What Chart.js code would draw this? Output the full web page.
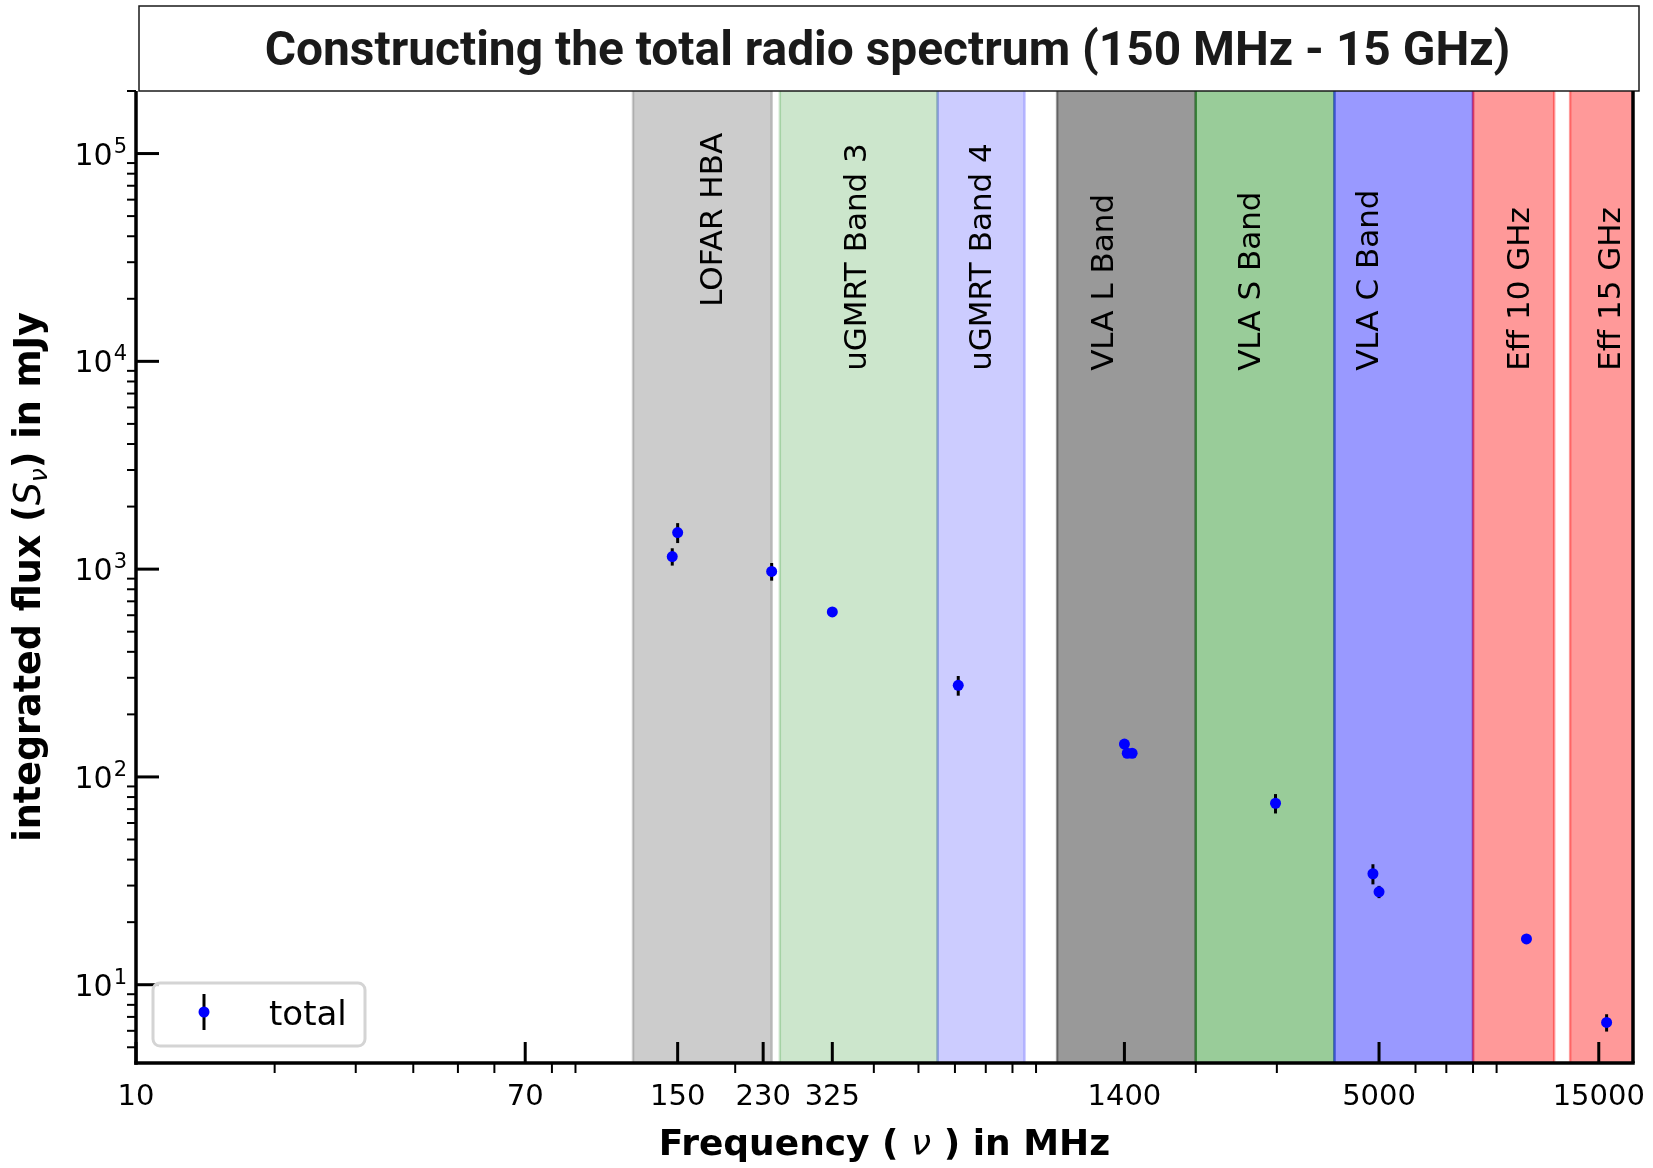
<!DOCTYPE html>
<html>
<head>
<meta charset="utf-8">
<title>Constructing the total radio spectrum</title>
<script src="https://cdn.jsdelivr.net/npm/chart.js@4.4.1/dist/chart.umd.min.js"></script>
<style>
  html, body { margin: 0; padding: 0; background: #fff; }
</style>
</head>
<body>
<canvas id="spectrum" width="1653" height="1168"></canvas>
<script>
// measured integrated flux, MHz / mJy
const freqMHz = [146, 150, 240, 325, 610, 1400, 1420, 1455, 2980, 4850, 5000, 10450, 15600];
const fluxMJy = [1150, 1500, 975, 622, 276, 144, 130, 130, 74.7, 34.2, 28, 16.6, 6.58];
const fluxErr = [110, 165, 95, 25, 30, 5, 5, 5, 8, 3.8, 1.9, 0.6, 0.63];

// observing bands
const bandNames = ['LOFAR HBA', 'uGMRT Band 3', 'uGMRT Band 4', 'VLA L Band', 'VLA S Band', 'VLA C Band', 'Eff 10 GHz', 'Eff 15 GHz'];
const bandLow = [120, 250, 550, 1000, 2000, 4000, 8000, 13000];
const bandHigh = [240, 550, 850, 2000, 4000, 8000, 12000, 18000];
const bandColors = [
  'rgba(128,128,128,0.4)',
  'rgba(0,128,0,0.2)',
  'rgba(0,0,255,0.2)',
  'rgba(0,0,0,0.4)',
  'rgba(0,128,0,0.4)',
  'rgba(0,0,255,0.4)',
  'rgba(255,0,0,0.4)',
  'rgba(255,0,0,0.4)'
];
const bandLabelFreq = [180, 370, 690, 1270, 2650, 4780, 10150, 16000];
const bandLabelFlux = [18300, 9000, 9000, 9000, 9000, 9000, 9000, 9000];

// ticks
const xTickValues = [10, 70, 150, 230, 325, 1400, 5000, 15000];
const xMinorValues = [20, 30, 40, 50, 60, 80, 90, 200, 400, 500, 600, 700, 800, 900, 2000, 3000, 6000, 7000, 8000, 9000];
const yTickValues = [10, 100, 1000, 10000, 100000];
const yMinorValues = [5, 6, 7, 8, 9, 20, 30, 40, 50, 60, 70, 80, 90, 200, 300, 400, 500, 600, 700, 800, 900,
  2000, 3000, 4000, 5000, 6000, 7000, 8000, 9000, 20000, 30000, 40000, 50000, 60000, 70000, 80000, 90000, 200000];

const titleText = 'Constructing the total radio spectrum (150 MHz - 15 GHz)';

Chart.defaults.font.family = '"DejaVu Sans"';
Chart.defaults.color = '#000';

function line(ctx, x0, y0, x1, y1) {
  ctx.beginPath();
  ctx.moveTo(x0, y0);
  ctx.lineTo(x1, y1);
  ctx.stroke();
}

// draws text made of several font runs, centred on (cx, cy)
function richText(ctx, parts, cx, cy, angle) {
  let total = 0;
  parts.forEach(p => { ctx.font = p.font; p.w = ctx.measureText(p.text).width; total += p.w; });
  ctx.save();
  ctx.translate(cx, cy);
  ctx.rotate(angle);
  ctx.textAlign = 'left';
  ctx.textBaseline = 'alphabetic';
  let pos = -total / 2;
  parts.forEach(p => {
    ctx.font = p.font;
    ctx.fillText(p.text, pos, p.dy || 0);
    pos += p.w;
  });
  ctx.restore();
}

const spectrumDecor = {
  id: 'spectrumDecor',
  beforeDatasetsDraw(chart) {
    const {ctx, chartArea: a, scales: {x, y}} = chart;
    ctx.save();
    ctx.beginPath();
    ctx.rect(a.left, a.top, a.right - a.left, a.bottom - a.top);
    ctx.clip();

    bandNames.forEach((name, i) => {
      const x0 = x.getPixelForValue(bandLow[i]);
      const x1 = x.getPixelForValue(bandHigh[i]);
      ctx.fillStyle = bandColors[i];
      ctx.fillRect(x0, a.top, x1 - x0, a.bottom - a.top);
      ctx.strokeStyle = bandColors[i];
      ctx.lineWidth = 2.5;
      ctx.strokeRect(x0, a.top - 10, x1 - x0, a.bottom - a.top + 20);
    });

    ctx.fillStyle = '#000';
    ctx.font = '31px "DejaVu Sans"';
    ctx.textAlign = 'left';
    ctx.textBaseline = 'middle';
    bandNames.forEach((name, i) => {
      ctx.save();
      ctx.translate(x.getPixelForValue(bandLabelFreq[i]), y.getPixelForValue(bandLabelFlux[i]));
      ctx.rotate(-Math.PI / 2);
      ctx.fillText(name, 0, 0);
      ctx.restore();
    });

    // error bars under the markers
    ctx.strokeStyle = '#000';
    ctx.lineWidth = 3;
    freqMHz.forEach((f, i) => {
      const px = x.getPixelForValue(f);
      line(ctx, px, y.getPixelForValue(fluxMJy[i] + fluxErr[i]), px, y.getPixelForValue(fluxMJy[i] - fluxErr[i]));
    });
    ctx.restore();
  },
  afterDraw(chart) {
    const {ctx, chartArea: a, scales: {x, y}} = chart;
    ctx.save();
    ctx.strokeStyle = '#000';
    ctx.lineCap = 'butt';

    // title box
    ctx.fillStyle = '#fff';
    ctx.fillRect(a.left + 3, 6, a.right - a.left + 3, a.top - 6);
    ctx.lineWidth = 1.5;
    ctx.strokeStyle = '#1a1a1a';
    ctx.strokeRect(a.left + 3, 6, a.right - a.left + 3, a.top - 6);

    // spines
    ctx.strokeStyle = '#000';
    ctx.lineWidth = 3.5;
    line(ctx, a.left, a.top, a.left, a.bottom + 1.75);
    line(ctx, a.left - 1.75, a.bottom, a.right + 1.75, a.bottom);
    line(ctx, a.right, a.top, a.right, a.bottom);

    // minor ticks point out, major ticks point in
    ctx.lineWidth = 2;
    xMinorValues.forEach(v => {
      const px = x.getPixelForValue(v);
      line(ctx, px, a.bottom, px, a.bottom + 10);
    });
    yMinorValues.forEach(v => {
      if (v < y.min || v > y.max * 1.001) return;
      const py = y.getPixelForValue(v);
      line(ctx, a.left - 9, py, a.left, py);
    });
    ctx.lineWidth = 3;
    xTickValues.forEach(v => {
      const px = x.getPixelForValue(v);
      line(ctx, px, a.bottom, px, a.bottom - 21);
    });
    yTickValues.forEach(v => {
      const py = y.getPixelForValue(v);
      line(ctx, a.left, py, a.left + 23, py);
    });

    // y tick labels as 10 with a raised exponent
    ctx.fillStyle = '#000';
    ctx.textAlign = 'left';
    ctx.textBaseline = 'alphabetic';
    y.ticks.forEach(t => {
      const py = y.getPixelForValue(t.value);
      const expo = String(Math.round(Math.log10(t.value)));
      ctx.font = '30px "DejaVu Sans"';
      const wb = ctx.measureText('10').width;
      ctx.font = '21px "DejaVu Sans"';
      const we = ctx.measureText(expo).width;
      const x0 = a.left - 10 - wb - we;
      ctx.font = '30px "DejaVu Sans"';
      ctx.fillText('10', x0, py + 11);
      ctx.font = '21px "DejaVu Sans"';
      ctx.fillText(expo, x0 + wb + 1, py - 1);
    });

    // title text, fitted to the measured width
    ctx.fillStyle = '#1a1a1a';
    ctx.font = 'bold 46px Roboto';
    const tw = ctx.measureText(titleText).width;
    const ts = Math.min(52, Math.max(38, 46 * 1247 / tw));
    ctx.font = 'bold ' + ts.toFixed(1) + 'px Roboto';
    ctx.textAlign = 'center';
    ctx.fillText(titleText, (a.left + a.right) / 2 + 3, 65);

    // axis titles
    ctx.fillStyle = '#000';
    richText(ctx, [
      {text: 'Frequency ( ', font: 'bold 36px "DejaVu Sans"'},
      {text: '\u03bd', font: 'italic 36px "DejaVu Sans"'},
      {text: ' ) in MHz', font: 'bold 36px "DejaVu Sans"'}
    ], (a.left + a.right) / 2, 1155, 0);
    richText(ctx, [
      {text: 'integrated flux (', font: 'bold 36.5px "DejaVu Sans"'},
      {text: 'S', font: 'italic 36.5px "DejaVu Sans"'},
      {text: '\u03bd', font: 'italic 25px "DejaVu Sans"', dy: 7},
      {text: ') in mJy', font: 'bold 36.5px "DejaVu Sans"'}
    ], 40, (a.top + a.bottom) / 2, -Math.PI / 2);

    // legend
    const ds = chart.data.datasets[0];
    const lx = a.left + 17, ly = a.bottom - 80, lw = 212, lh = 63;
    ctx.beginPath();
    ctx.roundRect(lx, ly, lw, lh, 7);
    ctx.fillStyle = 'rgba(255,255,255,0.8)';
    ctx.fill();
    ctx.lineWidth = 3;
    ctx.strokeStyle = '#d4d4d4';
    ctx.stroke();
    ctx.strokeStyle = '#000';
    ctx.lineWidth = 3;
    line(ctx, lx + 51, ly + 11, lx + 51, ly + 47);
    ctx.fillStyle = ds.backgroundColor;
    ctx.beginPath();
    ctx.arc(lx + 51, ly + 29, 5.5, 0, Math.PI * 2);
    ctx.fill();
    ctx.fillStyle = '#000';
    ctx.font = '34px "DejaVu Sans"';
    ctx.textAlign = 'left';
    ctx.fillText(ds.label, lx + 116, ly + 42);
    ctx.restore();
  }
};

new Chart(document.getElementById('spectrum'), {
  type: 'scatter',
  data: {
    datasets: [{
      label: 'total',
      data: freqMHz.map((f, i) => ({x: f, y: fluxMJy[i]})),
      backgroundColor: '#0000ff',
      borderColor: '#0000ff',
      borderWidth: 0,
      pointRadius: 5.5,
      pointHoverRadius: 5.5
    }]
  },
  options: {
    responsive: false,
    animation: false,
    devicePixelRatio: 1,
    events: [],
    layout: {padding: {top: 91, right: 20, left: 0, bottom: 0}},
    plugins: {legend: {display: false}, tooltip: {enabled: false}},
    scales: {
      x: {
        type: 'logarithmic',
        min: 10,
        max: 17800,
        grid: {display: false, drawTicks: false},
        border: {display: false},
        afterBuildTicks: s => { s.ticks = xTickValues.map(v => ({value: v})); },
        afterFit: s => { s.height = 105; s.paddingLeft = 0; s.paddingRight = 0; },
        ticks: {
          callback: v => String(v),
          font: {size: 29},
          padding: 17,
          maxRotation: 0,
          autoSkip: false
        }
      },
      y: {
        type: 'logarithmic',
        min: 4.2,
        max: 200000,
        grid: {display: false, drawTicks: false},
        border: {display: false},
        afterBuildTicks: s => { s.ticks = yTickValues.map(v => ({value: v})); },
        afterFit: s => { s.width = 136; s.paddingTop = 0; s.paddingBottom = 0; },
        ticks: {display: false}
      }
    }
  },
  plugins: [spectrumDecor]
});
</script>
</body>
</html>
